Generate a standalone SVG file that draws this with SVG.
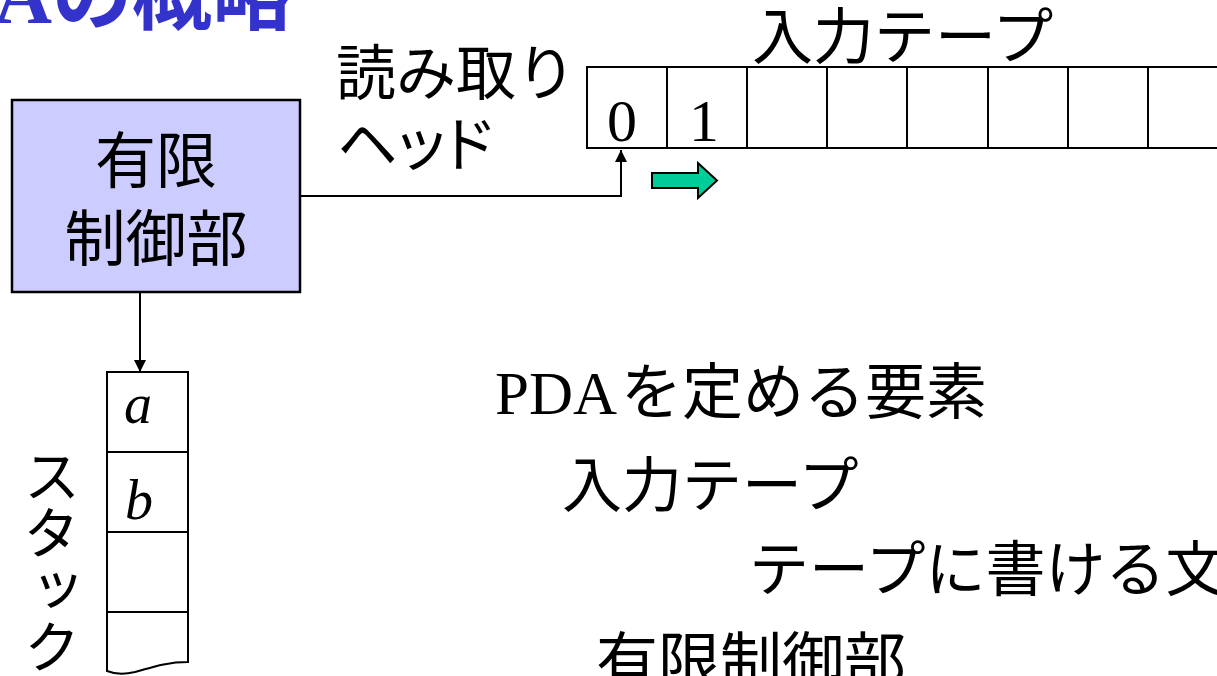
<svg xmlns="http://www.w3.org/2000/svg" width="1217" height="676" viewBox="0 0 1217 676">
<style>
.jp{font-family:"Noto Sans CJK JP","Noto Sans CJK SC",sans-serif;fill:#000}
.ser{font-family:"Liberation Serif",serif}
.palt{font-feature-settings:"palt"}
.ln{stroke:#000;stroke-width:2;fill:none}
.cell{fill:#fff;stroke:#000;stroke-width:2}
</style>
<defs>
<marker id="ah" viewBox="0 0 12 12" refX="12" refY="6" markerWidth="12" markerHeight="12" markerUnits="userSpaceOnUse" orient="auto"><path d="M0,0 L12,6 L0,12 Z" fill="#000"/></marker>
</defs>
<rect width="1217" height="676" fill="#fff"/>
<g id="title">
<text class="jp" x="292" y="23" text-anchor="end" font-size="80" font-weight="bold" style="fill:#3333CC"><tspan class="ser">PDA</tspan>の概略</text>
</g>
<g id="control">
<rect x="12" y="100" width="288" height="192" fill="#CCCCFF" stroke="#000" stroke-width="2.5"/>
<text class="jp" x="156" y="183" text-anchor="middle" font-size="61">有限</text>
<text class="jp" x="156" y="261" text-anchor="middle" font-size="61">制御部</text>
</g>
<g id="head-label">
<text class="jp" x="336" y="95" font-size="60">読み取り</text>
<text class="jp palt" x="337" y="166" font-size="60">ヘッド</text>
</g>
<g id="tape">
<text class="jp" x="752" y="59" font-size="61">入力テープ</text>
<rect class="cell" x="587" y="67" width="80" height="81"/>
<rect class="cell" x="667" y="67" width="80" height="81"/>
<rect class="cell" x="747" y="67" width="80" height="81"/>
<rect class="cell" x="827" y="67" width="80" height="81"/>
<rect class="cell" x="907" y="67" width="81" height="81"/>
<rect class="cell" x="988" y="67" width="80" height="81"/>
<rect class="cell" x="1068" y="67" width="80" height="81"/>
<rect class="cell" x="1148" y="67" width="80" height="81"/>
<text class="ser" x="622" y="141" text-anchor="middle" font-size="60">0</text>
<text class="ser" x="704" y="141" text-anchor="middle" font-size="60">1</text>
</g>
<g id="move-arrow">
<polygon points="652,173 698,173 698,163 717,180.5 698,198 698,188 652,188" fill="#00CC99" stroke="#000" stroke-width="2"/>
</g>
<g id="stack">
<rect class="cell" x="107" y="372" width="81" height="80"/>
<rect class="cell" x="107" y="452" width="81" height="80"/>
<rect class="cell" x="107" y="532" width="81" height="80"/>
<path class="cell" d="M107,612 H188 V662 C165,662 150,668 135,672 C122,675 112,673 107,671 Z"/>
<text class="ser" x="138" y="423" text-anchor="middle" font-size="56" font-style="italic">a</text>
<text class="ser" x="139" y="519" text-anchor="middle" font-size="56" font-style="italic">b</text>
<text class="jp" x="52" y="447" font-size="57" writing-mode="vertical-rl">スタック</text>
</g>
<g id="connectors">
<polyline class="ln" points="300,196 621,196 621,150" marker-end="url(#ah)"/>
<line class="ln" x1="140" y1="292" x2="140" y2="372" marker-end="url(#ah)"/>
</g>
<g id="elements">
<text class="jp" x="495" y="414" font-size="61"><tspan class="ser">PDA</tspan><tspan dx="4">を定める要素</tspan></text>
<text class="jp" x="562" y="507" font-size="60">入力テープ</text>
<text class="jp" x="749" y="591" font-size="60">テープに書ける文</text>
<text class="jp" x="596" y="684" font-size="62">有限制御部</text>
</g>
</svg>
